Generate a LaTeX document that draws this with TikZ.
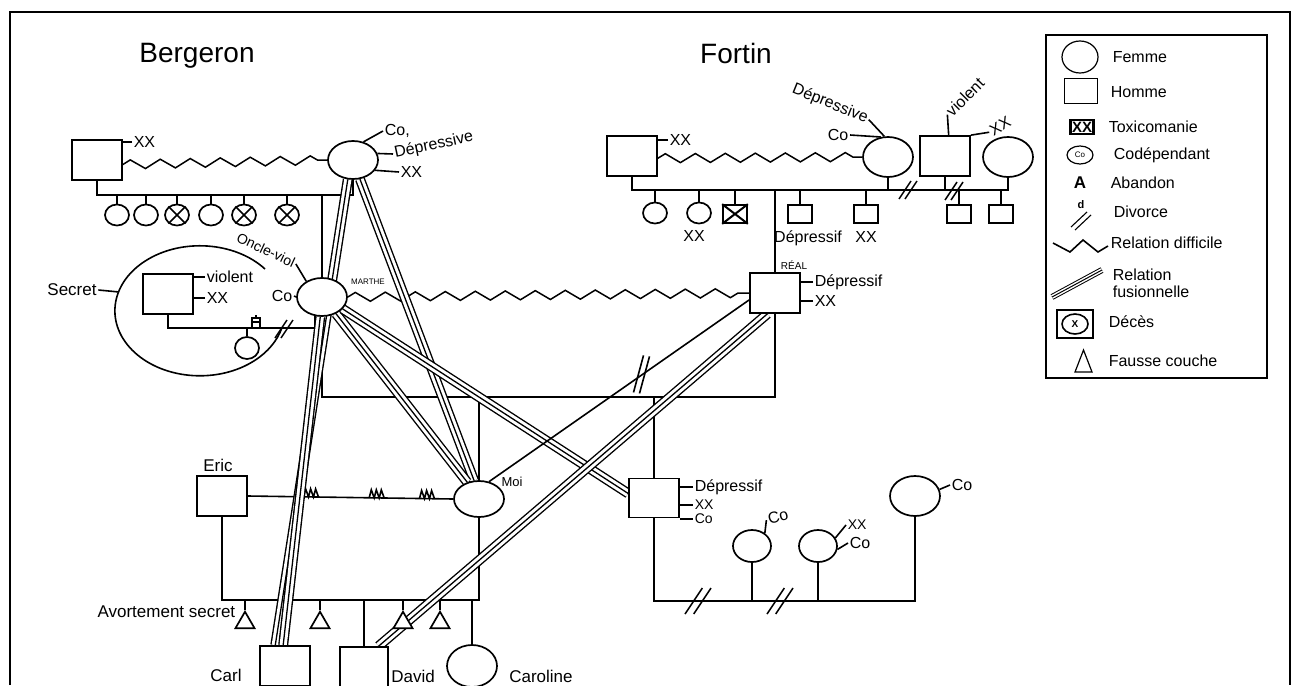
\documentclass[tikz,border=0pt]{standalone}
\usepackage{fontspec}
\setmainfont{Liberation Sans}
\usetikzlibrary{shapes.geometric}
\usetikzlibrary{calc}
\usetikzlibrary{backgrounds}
\usetikzlibrary{decorations.pathmorphing}
\usetikzlibrary{decorations.markings}

\tikzset{
 homme/.style={draw, rectangle, fill=white, line width=1.7pt, minimum width=50pt, minimum height=40pt, inner sep=0pt},
 femme/.style={draw, ellipse, fill=white, line width=1.7pt, minimum width=50pt, minimum height=38pt, inner sep=0pt},
 petitf/.style={femme, minimum width=24pt, minimum height=21pt},
 petith/.style={homme, minimum width=24pt, minimum height=18pt},
 avort/.style={draw, regular polygon, regular polygon sides=3, fill=white, line width=1.7pt, minimum size=22pt, inner sep=0pt},
 lbl/.style={font=\fontsize{16}{18}\selectfont, inner sep=1pt},
 nom/.style={font=\fontsize{17}{19}\selectfont, inner sep=1pt},
 leg/.style={font=\fontsize{16}{18}\selectfont, anchor=west, inner sep=0pt},
 difficile/.style={line width=1.5pt, decorate, decoration={zigzag, segment length=30pt, amplitude=4.5pt}},
 fusion/.style={line width=10pt, postaction={draw=white, line width=7.2pt}, postaction={draw=black, line width=1.3pt}},
 violence/.style={postaction={decorate, decoration={markings, mark=at position #1 with {\draw[line width=1.6pt] (-8,0)--(-6,-8)--(-3,0)--(-1,-8)--(2,0)--(4,-8)--(7,0);}}}},
 pics/divorce/.style={code={\draw[line width=1.5pt] (-#1,#1)--(#1/3,-#1) (-#1/3,#1)--(#1,-#1);}},
 pics/abandon/.style={code={\draw[line width=1.4pt] (-4,0)--(-4,-10)--(4,-10)--(4,0) (-4,-6)--(4,-6) (0,-10)--(0,-13);}},
}

\begin{document}
\begin{tikzpicture}[x=1pt, y=-1pt, line width=1.6pt]
 \useasboundingbox (0,0) rectangle (1292,685);
 \draw[line width=2.5pt] (10,685) -- (10,12) -- (1290,12) -- (1290,685);

 \node[font=\fontsize{28}{30}\selectfont] (tberg) at (197,56) {Bergeron};
 \node[font=\fontsize{28}{30}\selectfont] (tfort) at (736,53) {Fortin};

 %%% Bergeron
 \node[homme] (bpere) at (97,160) {};
 \node[femme] (bmere) at (353,160) {};
 \node[lbl, anchor=west] (bpxx) at (132,142) {XX};
 \node[lbl, anchor=west] (bmco) at (383,131) {Co,};
 \node[lbl, anchor=west, rotate=12] (bmdep) at (393,154) {Dépressive};
 \node[lbl, anchor=west] (bmxx) at (399,172) {XX};
 \foreach \n/\x in {1/117,2/146,3/177,4/211,5/244,6/287}
  \node[petitf] (bc\n) at (\x,215) {};
 \foreach \n in {3,5,6}
  \draw (bc\n.45) -- (bc\n.225) (bc\n.135) -- (bc\n.315);

 \node[femme] (marthe) at (322,297) {};
 \node[font=\fontsize{8}{9}\selectfont, anchor=west] (mname) at (347,282) {MARTHE};
 \node[lbl, font=\fontsize{14}{15}\selectfont, rotate=-25] (monc) at (266,250) {Oncle-viol};
 \node[lbl] (mco) at (282,296) {Co};

 % secret
 \draw (265,269) arc[start angle=-40, end angle=-345, x radius=85, y radius=65];
 \coordinate (secbord) at (119,292);
 \node[nom] (secret) at (72,290) {Secret};
 \node[homme] (oncle) at (168,294) {};
 \node[lbl, anchor=west] (onviol) at (205,277) {violent};
 \node[lbl, anchor=west] (onxx) at (205,298) {XX};
 \node[petitf, minimum height=22pt] (schild) at (247,348) {};
 \coordinate (sfam) at (168,328);
 \pic at (256,328) {abandon};
 \pic at (284,329) {divorce=9};

 %%% Fortin
 \node[homme] (fpere) at (632,156) {};
 \node[femme, minimum height=40pt] (fmere) at (888,157) {};
 \node[homme] (fhomme) at (945,156) {};
 \node[femme, minimum height=40pt] (ffemme) at (1008,157) {};
 \node[lbl, anchor=west] (fpxx) at (668,140) {XX};
 \node[lbl] (fmco) at (838,135) {Co};
 \node[lbl, rotate=-22] (fmdep) at (830,104) {Dépressive};
 \node[lbl, rotate=45] (fhviol) at (965,97) {violent};
 \node[lbl, rotate=30] (fhxx) at (1000,126) {XX};
 \coordinate (ffam) at (632,190);
 \foreach \n/\x in {1/655,2/699}
  \node[petitf] (fc\n) at (\x,213) {};
 \foreach \n/\x in {3/735,4/800,5/866,6/959,7/1001}
  \node[petith] (fc\n) at (\x,214) {};
 \draw[line width=2pt] (fc3.north west) -- (fc3.south east) (fc3.north east) -- (fc3.south west);
 \node[lbl] (fc2xx) at (694,236) {XX};
 \node[lbl] (fc4dep) at (808,238) {Dépressif};
 \node[lbl] (fc5xx) at (866,237) {XX};
 \pic at (908,190) {divorce=9};
 \pic at (954,191) {divorce=9};

 \node[homme] (real) at (775,293) {};
 \node[font=\fontsize{10}{11}\selectfont] (rname) at (794,265) {RÉAL};
 \node[lbl, anchor=west] (rdep) at (813,282) {Dépressif};
 \node[lbl, anchor=west] (rxx) at (813,301) {XX};

 %%% Moi
 \coordinate (mrfam) at (322,397);
 \node[femme, minimum height=36pt] (moi) at (479,499) {};
 \node[lbl, font=\fontsize{13}{14}\selectfont] (moiname) at (512,482) {Moi};
 \node[homme, minimum height=39pt] (fils) at (654,498) {};
 \node[lbl, anchor=west] (fdep) at (693,487) {Dépressif};
 \node[lbl, anchor=west, font=\fontsize{14}{15}\selectfont] (fxx) at (693,505) {XX};
 \node[lbl, anchor=west, font=\fontsize{14}{15}\selectfont] (fco) at (693,519) {Co};

 \coordinate (fsfam) at (654,601);
 \node[femme, minimum width=38pt, minimum height=32pt] (pf1) at (752,546) {};
 \node[femme, minimum width=38pt, minimum height=32pt] (pf2) at (818,546) {};
 \node[femme, minimum height=40pt] (pf3) at (915,496) {};
 \node[lbl, rotate=15] (pf1co) at (778,517) {Co};
 \node[lbl, anchor=west, font=\fontsize{14}{15}\selectfont] (pf2xx) at (846,525) {XX};
 \node[lbl, anchor=west] (pf2co) at (848,543) {Co};
 \node[lbl, anchor=west] (pf3co) at (950,485) {Co};
 \pic at (698,601) {divorce=13};
 \pic at (780,601) {divorce=13};

 \node[homme] (eric) at (222,496) {};
 \node[nom] (ericname) at (218,465) {Eric};
 \coordinate (emfam) at (222,600);
 \foreach \n/\x in {1/245,2/320,3/403,4/440}
  \node[avort, anchor=north] (av\n) at (\x,610) {};
 \node[homme] (carl) at (285,666) {};
 \node[homme, minimum width=48pt] (david) at (364,667) {};
 \node[femme, minimum height=42pt] (caroline) at (472,666) {};
 \node[nom, anchor=east] (avname) at (237,612) {Avortement secret};
 \node[nom] (carlname) at (226,675) {Carl};
 \node[nom] (davidname) at (413,676) {David};
 \node[nom] (carolname) at (541,676) {Caroline};

 \begin{scope}[on background layer]
 \begin{scope}[line width=1.6pt]
  \draw (bpxx.west) -- (bpxx.west -| bpere.east);
  \draw (bmere.60) -- (bmco.west);
  \draw (bmere.15) -- (bmdep.west);
  \draw (bmere.-25) -- (bmxx.west);
  \draw[difficile] (bpere.-10) -- (bmere.west);
  \coordinate (bfam) at (97,195);
  \draw (bpere.south) -- (bfam) -| (bmere.south);
  \foreach \n in {1,...,6}
   \draw (bc\n.north) -- (bc\n.north |- bfam);
  \draw (marthe.north) -- (marthe.north |- bfam);
  \draw (marthe.135) -- (monc.east);
  \draw (mco.east) -- (marthe.west);
  \draw (secret.east) -- (secbord);
  \draw (onviol.west) -- (onviol.west -| oncle.east);
  \draw (onxx.west) -- (onxx.west -| oncle.east);
  \draw (oncle.south) -- (sfam) -| (marthe.250);
  \draw (schild.north) -- (schild.north |- sfam);

  \draw (fpxx.west) -- (fpxx.west -| fpere.east);
  \draw (fmco.east) -- (fmere.110);
  \draw (fmdep.east) -- (fmere.100);
  \draw (fhomme.80) -- (fhviol.west);
  \draw (fhomme.north east) -- (fhxx.west);
  \draw[difficile] (fpere.-5) -- (fmere.west);
  \draw (fpere.south) -- (ffam) -| (ffemme.south);
  \draw (fmere.south) -- (fmere.south |- ffam);
  \draw (fhomme.south) -- (fhomme.south |- ffam);
  \foreach \n in {1,...,7}
   \draw (fc\n.north) -- (fc\n.north |- ffam);
  \draw (real.north) -- (real.north |- ffam);
  \draw (rdep.west) -- (rdep.west -| real.east);
  \draw (rxx.west) -- (rxx.west -| real.east);
  \draw[difficile] (marthe.east) -- (real.west);

  \draw (marthe.south) -- (mrfam) -| (real.south);
  \draw (moi.north) -- (moi.north |- mrfam);
  \draw (fils.north) -- (fils.north |- mrfam);
  \draw (fdep.west) -- (fdep.west -| fils.east);
  \draw (fxx.west) -- (fxx.west -| fils.east);
  \draw (fco.west) -- (fco.west -| fils.east);
  \draw (fils.south) -- (fsfam) -| (pf3.south);
  \draw (pf1.south) -- (pf1.south |- fsfam);
  \draw (pf2.south) -- (pf2.south |- fsfam);
  \draw (pf1.45) -- (pf1co.west);
  \draw (pf2.25) -- (pf2xx.west);
  \draw (pf2.-10) -- (pf2co.west);
  \draw (pf3.15) -- (pf3co.west);

  \draw[violence=0.31, violence=0.63, violence=0.875] (eric.east) -- (moi.west);
  \draw (eric.south) -- (emfam) -| (moi.south);
  \foreach \n in {1,...,4}
   \draw (av\n.north) -- (av\n.north |- emfam);
  \draw (carl.north) -- (carl.north |- emfam);
  \draw (david.north) -- (david.north |- emfam);
  \draw (caroline.north) -- (caroline.north |- emfam);

  % liens fusionnels
  \draw[fusion] (bmere.255) -- (carl.115);
  \draw[fusion] (marthe.265) -- (carl.95);
  \draw[fusion] (bmere.290) -- (moi.105);
  \draw[fusion] (marthe.310) -- (moi.125);
  \draw[fusion] (marthe.330) -- (fils.170);
  \draw[fusion] (real.250) -- (david.55);
  \draw (real.195) -- (moi.60);
  \coordinate (cut) at ($(real.195)!0.41!(moi.60)$);
  \draw (cut) ++(-9,18) -- ++(10,-37) (cut) ++(-3,19) -- ++(10,-37);
 \end{scope}
 \end{scope}

 %%% legende
 \draw[line width=2pt] (1046,35) rectangle (1267,378);
 \node[femme, minimum width=36pt, minimum height=32pt, line width=1.2pt] (lfemme) at (1080,57) {};
 \node[leg] (lfemmet) at (1112,57) {Femme};
 \node[homme, minimum width=33pt, minimum height=25pt, line width=1.8pt] (lhomme) at (1081,91) {};
 \node[leg] (lhommet) at (1110,92) {Homme};
 \node[draw, line width=2.2pt, inner sep=1.5pt, font=\fontsize{15}{16}\selectfont\bfseries] (ltox) at (1082,127) {XX};
 \node[leg] (ltoxt) at (1108,127) {Toxicomanie};
 \node[draw, ellipse, line width=1.2pt, inner sep=0pt, minimum width=26pt, minimum height=18pt, font=\fontsize{8}{9}\selectfont] (lco) at (1080,155) {Co};
 \node[leg] (lcot) at (1113,155) {Codépendant};
 \node[font=\fontsize{17}{18}\selectfont\bfseries] (laband) at (1080,183) {A};
 \node[leg] (labandt) at (1110,183) {Abandon};
 \node[font=\fontsize{11}{12}\selectfont\bfseries] (ldiv) at (1081,205) {d};
 \draw[line width=1.1pt] (1071,227) -- (1087,212) (1075,230) -- (1091,215);
 \node[leg] (ldivt) at (1113,212) {Divorce};
 \draw[line width=1.6pt] (1053,243) -- (1070,252) -- (1083,240) -- (1098,252) -- (1108,246);
 \node[leg] (ldifft) at (1110,243) {Relation difficile};
 \draw[line width=6pt, postaction={draw=white, line width=4pt}, postaction={draw=black, line width=1pt}] (1052,297) -- (1102,270);
 \node[leg] (lfust) at (1112,275) {Relation};
 \node[leg] (lfust2) at (1112,292) {fusionnelle};
 \node[draw, line width=2pt, minimum width=36pt, minimum height=28pt, inner sep=0pt] (ldeces) at (1075,324) {};
 \node[draw, ellipse, line width=1.6pt, minimum width=26pt, minimum height=20pt, inner sep=0pt, font=\bfseries] (ldecesx) at (1075,324) {X};
 \node[leg] (ldecest) at (1108,322) {Décès};
 \draw[line width=1.2pt] (1075,372) -- (1083.5,350) -- (1092,372) -- cycle;
 \node[leg] (lfct) at (1108,361) {Fausse couche};
\end{tikzpicture}
\end{document}
